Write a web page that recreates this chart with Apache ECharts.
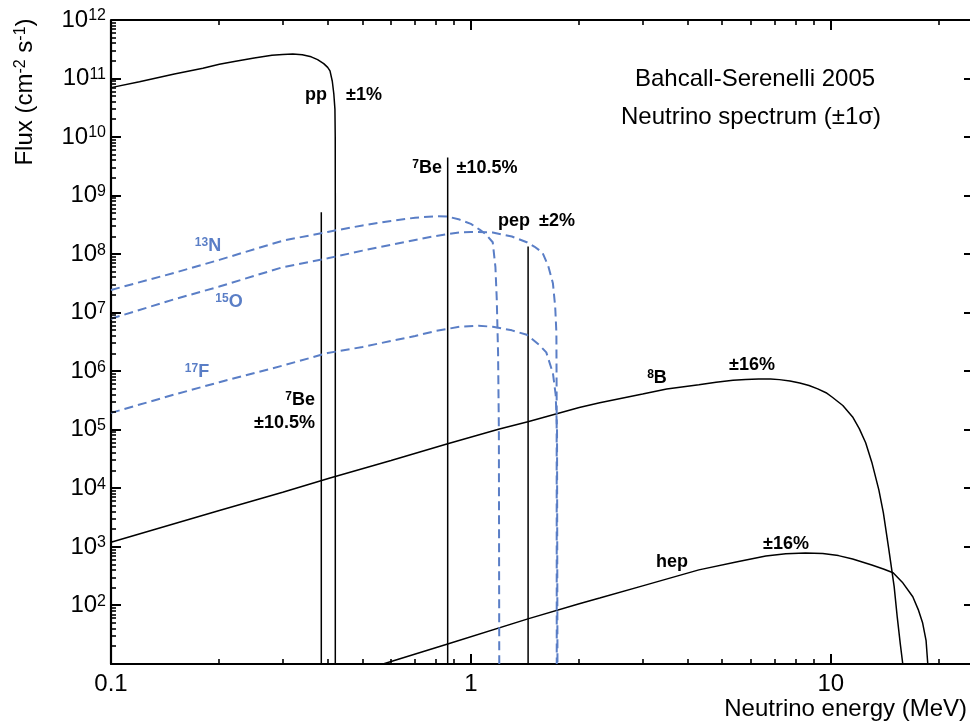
<!DOCTYPE html>
<html><head><meta charset="utf-8">
<script src="https://cdn.jsdelivr.net/npm/echarts@6/dist/echarts.min.js"></script>
<style>html,body{margin:0;padding:0;background:#fff}#c{width:970px;height:723px}</style>
</head><body><div id="c"></div>
<script>
// ---- data (energy in MeV, flux in cm^-2 s^-1) ----
const energyTicks = [0.1, 1, 10];
const energyMinor = [0.2,0.3,0.4,0.5,0.6,0.7,0.8,0.9,2,3,4,5,6,7,8,9,20];
const fluxTicks = [1e2,1e3,1e4,1e5,1e6,1e7,1e8,1e9,1e10,1e11,1e12];
const fluxMinorMantissas = [2,3,4,5,6,7,8,9];
const fluxDecades = [1e1,1e2,1e3,1e4,1e5,1e6,1e7,1e8,1e9,1e10,1e11];

const ppSpectrum = [[0.1,7.0e10],[0.12,8.8e10],[0.15,1.2e11],[0.18,1.5e11],[0.2,1.75e11],[0.22,1.95e11],[0.25,2.25e11],[0.28,2.5e11],[0.3,2.58e11],[0.32,2.62e11],[0.34,2.55e11],[0.36,2.35e11],[0.375,2.1e11],[0.39,1.8e11],[0.40,1.55e11],[0.406,1.35e11],[0.412,9e10],[0.416,5.5e10],[0.419,3e10],[0.4198,1e10],[0.42,1e9],[0.42,10]];
const b8Spectrum = [[0.1,1.2e3],[0.2,4.2e3],[0.3,8.6e3],[0.406,1.5e4],[0.6,3.0e4],[0.862,5.8e4],[1.2,1.03e5],[1.44,1.37e5],[2.0,2.4e5],[2.28,2.9e5],[3.0,4.1e5],[3.5,5.0e5],[4.3,5.9e5],[4.8,6.5e5],[5.35,7.0e5],[5.8,7.25e5],[6.3,7.4e5],[6.8,7.35e5],[7.2,7.2e5],[7.7,6.85e5],[8.2,6.3e5],[8.7,5.7e5],[9.2,5.0e5],[9.7,4.3e5],[10.1,3.6e5],[10.8,2.6e5],[11.5,1.66e5],[12.0,1.05e5],[12.5,6e4],[13.0,2.8e4],[13.6,9.4e3],[14.0,3.8e3],[14.5,900],[15.0,210],[15.3,63],[15.6,22],[15.85,10]];
const hepSpectrum = [[0.5,7.5],[0.57,10],[0.862,22],[1.44,59],[2.0,107],[2.28,134],[3.0,216],[4.3,405],[5.5,560],[6.6,700],[7.5,765],[8.5,790],[9.5,770],[10.5,710],[11.5,620],[13.0,490],[14.0,420],[14.9,363],[15.8,250],[16.9,141],[17.5,85],[18.0,50],[18.4,25],[18.6,10]];
const n13Spectrum = [[0.1,2.45e7],[0.15,4.8e7],[0.2,8.0e7],[0.3,1.7e8],[0.4,2.4e8],[0.5,3.1e8],[0.6,3.7e8],[0.7,4.2e8],[0.8,4.45e8],[0.86,4.4e8],[0.93,3.9e8],[1.0,3.3e8],[1.06,2.6e8],[1.1,2.2e8],[1.15,1.6e8],[1.17,6e7],[1.18,1.7e7],[1.19,2e6],[1.196,1e5],[1.199,10]];
const o15Spectrum = [[0.1,7.9e6],[0.15,1.7e7],[0.2,2.8e7],[0.3,6.0e7],[0.4,8.5e7],[0.5,1.15e8],[0.6,1.45e8],[0.7,1.75e8],[0.8,2.05e8],[0.86,2.2e8],[0.93,2.35e8],[1.0,2.4e8],[1.15,2.35e8],[1.3,2.0e8],[1.43,1.6e8],[1.5,1.35e8],[1.58,1.07e8],[1.64,6.3e7],[1.69,3.2e7],[1.715,1.26e7],[1.728,4.6e6],[1.731,3.2e5],[1.732,10]];
const f17Spectrum = [[0.1,1.95e5],[0.15,4.0e5],[0.2,6.5e5],[0.3,1.25e6],[0.4,2.05e6],[0.5,2.6e6],[0.6,3.3e6],[0.7,4.0e6],[0.8,4.9e6],[0.93,5.75e6],[1.05,6.0e6],[1.15,5.75e6],[1.3,5.0e6],[1.43,4.2e6],[1.55,2.8e6],[1.62,2.1e6],[1.69,9.3e5],[1.72,4e5],[1.735,1e5],[1.74,10]];
// line sources: [energy, flux]
const be7Lines = [[0.384,5.2e8],[0.862,4.5e9]];
const pepLine = [1.442,1.35e8];
const fluxFloor = 10;
const energyMin = 0.1, energyMax = 25, fluxMin = 10, fluxMax = 1e12;

// ---- chart ----
const FONT = '"Liberation Sans", Arial, Helvetica, sans-serif';
const BLUE = '#5a7ec6';
const chart = echarts.init(document.getElementById('c'), null, {renderer:'canvas'});

function fmtX(v){ return v < 1 ? '0.1' : String(Math.round(v)); }
function fmtY(v){ const e = Math.round(Math.log10(v)); return '{b|10}{s|' + e + '}'; }

function lineSeries(data, opts){
  return Object.assign({type:'line', data:data, showSymbol:false, symbol:'none', animation:false, silent:true,
    smooth:false, clip:true,
    lineStyle:{color:'#000', width:1.5}}, opts||{});
}
function dashed(data){ return lineSeries(data, {lineStyle:{color:BLUE, width:2, type:[9,5]}}); }
function vline(p){ return lineSeries([[p[0], fluxFloor],[p[0], p[1]]]); }

function label(x, y, text, opt){
  opt = opt || {};
  const size = opt.size || 18;
  const w = opt.weight || 'bold';
  const col = opt.color || '#000';
  return {type:'text', x:x, y:y, silent:true, z:100, rotation: opt.rotation || 0,
    style:{text:text, fill:col, fontSize:size, fontWeight:w, fontFamily:FONT,
      align: opt.align || 'center', verticalAlign:'middle', textAlign: opt.align || 'center', textVerticalAlign:'middle',
      rich:{
        s:{fontSize: opt.sup || 12, fontWeight:w, fontFamily:FONT, fill:col, verticalAlign:'top'},
        t:{fontSize:size, fontWeight:w, fontFamily:FONT, fill:col}
      }}};
}

const labels = [
  label(316, 95, 'pp'),
  label(364, 95, '±1%'),
  label(442, 168, '{s|7}{t|Be}', {align:'right'}),
  label(487, 168, '±10.5%'),
  label(514, 221, 'pep'),
  label(557, 221, '±2%'),
  label(208, 246, '{s|13}{t|N}', {color:BLUE}),
  label(229, 302, '{s|15}{t|O}', {color:BLUE}),
  label(197, 372, '{s|17}{t|F}', {color:BLUE}),
  label(315, 400, '{s|7}{t|Be}', {align:'right'}),
  label(315, 423, '±10.5%', {align:'right'}),
  label(657, 378, '{s|8}{t|B}'),
  label(752, 365, '±16%'),
  label(672, 562, 'hep'),
  label(786, 544, '±16%'),
  label(755, 79, 'Bahcall-Serenelli 2005', {size:24, weight:'normal'}),
  label(751, 117, 'Neutrino spectrum (±1σ)', {size:24, weight:'normal'}),
  label(967, 709, 'Neutrino energy (MeV)', {size:24, weight:'normal', align:'right'}),
  label(25, 92, '{t|Flux (cm}{s|-2}{t| s}{s|-1}{t|)}', {size:24, weight:'normal', sup:16, rotation:Math.PI/2})
];

const option = {
  backgroundColor:'#fff',
  animation:false,
  grid:{left:111, top:20, width:863, height:644, containLabel:false, outerBoundsMode:'none'},
  xAxis:{type:'log', logBase:10, min:energyMin, max:energyMax, position:'bottom',
    splitLine:{show:false}, minorTick:{show:false},
    axisLine:{show:true, onZero:false, lineStyle:{color:'#000', width:2.2}},
    axisTick:{show:false},
    axisLabel:{show:true, customValues:energyTicks, formatter:fmtX, fontSize:24, color:'#000', fontFamily:FONT, margin:8}},
  yAxis:{type:'log', logBase:10, min:fluxMin, max:fluxMax, position:'left',
    splitLine:{show:false}, minorTick:{show:false},
    axisLine:{show:true, onZero:false, lineStyle:{color:'#000', width:2.2}},
    axisTick:{show:false},
    axisLabel:{show:true, customValues:fluxTicks, formatter:fmtY, color:'#000', margin:5,
      rich:{b:{fontSize:24, fontFamily:FONT, color:'#000'}, s:{fontSize:16, fontFamily:FONT, color:'#000', verticalAlign:'top'}}}},
  series:[
    lineSeries(ppSpectrum),
    lineSeries(b8Spectrum),
    lineSeries(hepSpectrum),
    vline(be7Lines[0]),
    vline(be7Lines[1]),
    vline(pepLine),
    dashed(n13Spectrum),
    dashed(o15Spectrum),
    dashed(f17Spectrum)
  ],
  graphic: labels
};
chart.setOption(option);

// ticks on the frame, placed through the chart's own log scales
function tickLine(x1,y1,x2,y2,w){ return {type:'line', silent:true, z:60, shape:{x1:x1,y1:y1,x2:x2,y2:y2}, style:{stroke:'#000', lineWidth:w}}; }
const frame = [];
const pTL = chart.convertToPixel({gridIndex:0}, [energyMin, fluxMax]);
const pBR = chart.convertToPixel({gridIndex:0}, [energyMax, fluxMin]);
const L = pTL[0], T = pTL[1], R = pBR[0], B = pBR[1];
frame.push({type:'line', silent:true, z:60, shape:{x1:L, y1:T, x2:R, y2:T}, style:{stroke:'#000', lineWidth:2.2}});
const MAJ = 10, MIN = 5;
energyTicks.map(v => [v, MAJ]).concat(energyMinor.map(v => [v, MIN])).forEach(function(t){
  const px = Math.round(chart.convertToPixel({gridIndex:0}, [t[0], fluxMin])[0]);
  const w = t[1] > MIN ? 2 : 1.6;
  frame.push(tickLine(px, B, px, B - t[1], w));
  frame.push(tickLine(px, T, px, T + t[1], w));
});
const yt = fluxTicks.map(v => [v, MAJ]);
fluxDecades.forEach(d => fluxMinorMantissas.forEach(m => yt.push([m*d, MIN])));
yt.forEach(function(t){
  const py = Math.round(chart.convertToPixel({gridIndex:0}, [energyMin, t[0]])[1]);
  const w = t[1] > MIN ? 2 : 1.6;
  frame.push(tickLine(L, py, L + t[1], py, w));
  if (t[1] > MIN) frame.push(tickLine(R, py, R - t[1], py, w));
});
chart.setOption({graphic: labels.concat(frame)});
</script>
</body></html>
